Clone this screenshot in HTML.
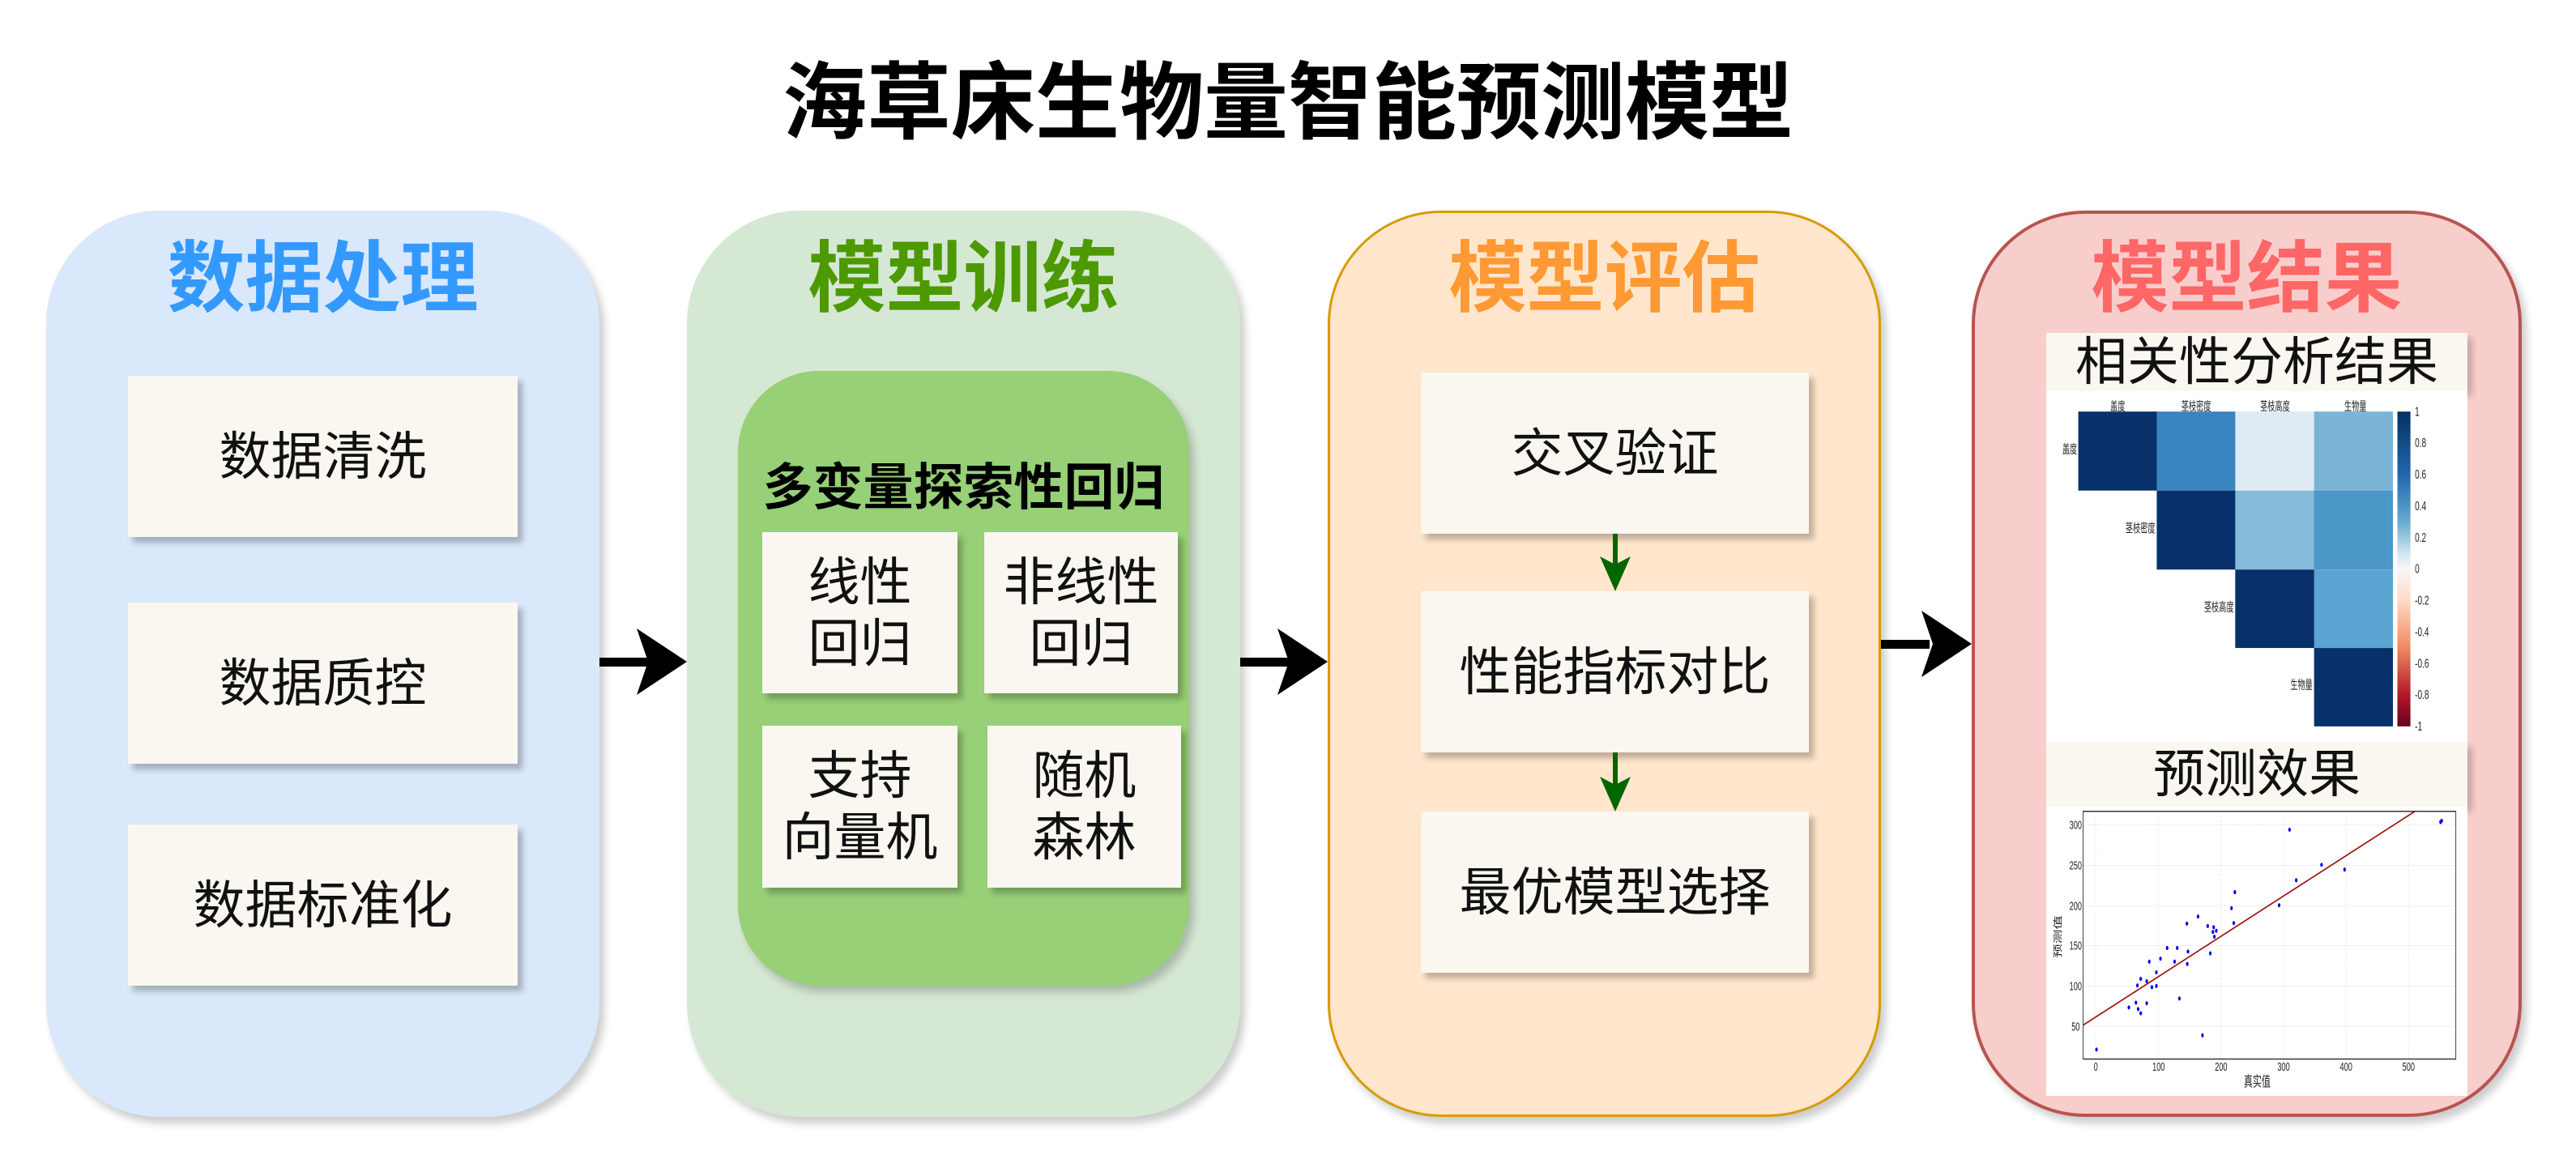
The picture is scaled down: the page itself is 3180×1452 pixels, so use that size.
<!DOCTYPE html>
<html><head><meta charset="utf-8"><style>
*{margin:0;padding:0;box-sizing:border-box}
body{width:3180px;height:1452px;background:#fff;position:relative;overflow:hidden;font-family:"Liberation Sans","Noto Sans CJK SC",sans-serif}
.a{position:absolute}
.panel{position:absolute;top:260px;height:1119px;border-radius:140px;box-shadow:6px 8px 10px rgba(0,0,0,0.2)}
.pt{position:absolute;left:0;right:0;top:290px;text-align:center;font-weight:bold;font-size:96px;line-height:110px}
.box{position:absolute;background:#f9f7f0;display:flex;align-items:center;justify-content:center;text-align:center;font-size:64px;line-height:76px;color:#111;box-shadow:6px 7px 7px rgba(0,0,0,0.25)}
.band{position:absolute;left:2526px;width:520px;background:#f9f7f0;text-align:center;font-size:64px;color:#111;box-shadow:6px 6px 8px rgba(0,0,0,0.2)}
</style></head><body>
<div class="a" style="left:0;right:0;top:66px;text-align:center;font-size:104px;font-weight:bold;line-height:125px;color:#000">海草床生物量智能预测模型</div>

<div class="panel" style="left:57px;width:683px;background:#dae8fc"></div>
<div class="panel" style="left:848px;width:683px;background:#d5e8d4"></div>
<div class="panel" style="left:1639px;width:683px;background:#ffe6cc;border:3px solid #d79b00"></div>
<div class="panel" style="left:2434px;width:679px;background:#f8cecc;border:4px solid #b85450"></div>

<div class="a pt" style="left:57px;width:683px;right:auto;color:#3399ff">数据处理</div>
<div class="a pt" style="left:848px;width:683px;right:auto;color:#4d9900">模型训练</div>
<div class="a pt" style="left:1639px;width:683px;right:auto;color:#ff9933">模型评估</div>
<div class="a pt" style="left:2434px;width:679px;right:auto;color:#ff6666">模型结果</div>

<div class="box" style="left:158px;top:464px;width:481px;height:199px">数据清洗</div>
<div class="box" style="left:158px;top:744px;width:481px;height:199px">数据质控</div>
<div class="box" style="left:158px;top:1018px;width:481px;height:199px">数据标准化</div>

<div class="a" style="left:911px;top:458px;width:557px;height:759px;background:#97d077;border-radius:100px;box-shadow:6px 8px 10px rgba(0,0,0,0.2)"></div>
<div class="a" style="left:911px;top:565px;width:557px;text-align:center;font-size:62px;font-weight:bold;line-height:76px;color:#000">多变量探索性回归</div>
<div class="box" style="left:941px;top:657px;width:241px;height:199px">线性<br>回归</div>
<div class="box" style="left:1215px;top:657px;width:239px;height:199px">非线性<br>回归</div>
<div class="box" style="left:941px;top:896px;width:241px;height:200px">支持<br>向量机</div>
<div class="box" style="left:1219px;top:896px;width:239px;height:200px">随机<br>森林</div>

<div class="box" style="left:1754px;top:460px;width:479px;height:199px">交叉验证</div>
<div class="box" style="left:1754px;top:730px;width:479px;height:199px">性能指标对比</div>
<div class="box" style="left:1754px;top:1002px;width:479px;height:199px">最优模型选择</div>

<svg class="a" style="left:0;top:0" width="3180" height="1452">
<g fill="#000">
<rect x="740" y="812" width="60" height="11"/><path d="M848,817 L786,776 L800,817 L786,858 Z"/>
<rect x="1531" y="812" width="60" height="11"/><path d="M1639,817 L1577,776 L1591,817 L1577,858 Z"/>
<rect x="2322" y="790" width="60" height="11"/><path d="M2434,795 L2372,754 L2386,795 L2372,836 Z"/>
</g>
<g fill="#006600">
<rect x="1991" y="659" width="6" height="40"/><path d="M1994,730 L1975,687 L1994,697 L2013,687 Z"/>
<rect x="1991" y="929" width="6" height="42"/><path d="M1994,1002 L1975,959 L1994,969 L2013,959 Z"/>
</g>
</svg>

<div class="band" style="top:411px;height:72px;line-height:72px">相关性分析结果</div>
<div class="band" style="top:916px;height:80px;line-height:80px">预测效果</div>
<div class="a" style="left:2526px;top:483px;width:520px;height:433px;background:#fff"></div>
<div class="a" style="left:2526px;top:996px;width:520px;height:357px;background:#fff"></div>

<svg class="a" style="left:2420px;top:250px" width="720" height="1150" viewBox="0 0 1568 1568" preserveAspectRatio="none">
<g font-family="Liberation Sans, Noto Sans CJK SC, sans-serif" font-size="20" fill="#222">
<rect x="317" y="352" width="212" height="133" fill="#08306b"/>
<rect x="528" y="352" width="212" height="133" fill="#3a84bf"/>
<rect x="739" y="352" width="213" height="133" fill="#deebf4"/>
<rect x="951" y="352" width="212" height="133" fill="#7ab4d6"/>
<rect x="528" y="485" width="212" height="133" fill="#08306b"/>
<rect x="739" y="485" width="213" height="133" fill="#86bbd9"/>
<rect x="951" y="485" width="212" height="133" fill="#4a97c8"/>
<rect x="739" y="618" width="213" height="132" fill="#08306b"/>
<rect x="951" y="618" width="212" height="132" fill="#5aa5d2"/>
<rect x="951" y="750" width="212" height="132" fill="#08306b"/>
<text x="423" y="350" text-anchor="middle">盖度</text>
<text x="634" y="350" text-anchor="middle">茎枝密度</text>
<text x="846" y="350" text-anchor="middle">茎枝高度</text>
<text x="1062" y="350" text-anchor="middle">生物量</text>
<text x="314" y="422" text-anchor="end">盖度</text>
<text x="524" y="555" text-anchor="end">茎枝密度</text>
<text x="735" y="688" text-anchor="end">茎枝高度</text>
<text x="947" y="819" text-anchor="end">生物量</text>
<defs><linearGradient id="cb" x1="0" y1="0" x2="0" y2="1">
<stop offset="0" stop-color="#053061"/><stop offset="0.2" stop-color="#2166ac"/><stop offset="0.35" stop-color="#67a9cf"/><stop offset="0.45" stop-color="#d1e5f0"/><stop offset="0.5" stop-color="#f7f7f7"/><stop offset="0.6" stop-color="#fddbc7"/><stop offset="0.75" stop-color="#ef8a62"/><stop offset="0.9" stop-color="#b2182b"/><stop offset="1" stop-color="#67001f"/></linearGradient></defs>
<rect x="1175" y="352" width="35" height="530" fill="url(#cb)"/>
<g font-size="22">
<text x="1222" y="359">1</text><text x="1222" y="412">0.8</text><text x="1222" y="465">0.6</text><text x="1222" y="518">0.4</text><text x="1222" y="571">0.2</text><text x="1222" y="624">0</text><text x="1222" y="677">-0.2</text><text x="1222" y="730">-0.4</text><text x="1222" y="783">-0.6</text><text x="1222" y="836">-0.8</text><text x="1222" y="889">-1</text>
</g>
<g stroke="#e4e4e4" stroke-width="1.5" stroke-dasharray="4,3">
<line x1="364" y1="1025" x2="364" y2="1442"/><line x1="533" y1="1025" x2="533" y2="1442"/><line x1="701" y1="1025" x2="701" y2="1442"/><line x1="869" y1="1025" x2="869" y2="1442"/><line x1="1037" y1="1025" x2="1037" y2="1442"/><line x1="1205" y1="1025" x2="1205" y2="1442"/>
<line x1="330" y1="1048" x2="1332" y2="1048"/><line x1="330" y1="1116" x2="1332" y2="1116"/><line x1="330" y1="1184" x2="1332" y2="1184"/><line x1="330" y1="1251" x2="1332" y2="1251"/><line x1="330" y1="1319" x2="1332" y2="1319"/><line x1="330" y1="1387" x2="1332" y2="1387"/>
</g>
<rect x="330" y="1025" width="1002" height="417" fill="none" stroke="#333" stroke-width="2"/>
<line x1="330" y1="1385" x2="1222" y2="1025" stroke="#a01010" stroke-width="2.5"/>
<g fill="#0000ee">
<circle cx="366" cy="1426" r="3.5"/><circle cx="453" cy="1355" r="3.5"/><circle cx="472" cy="1347" r="3.5"/><circle cx="478" cy="1358" r="3.5"/><circle cx="485" cy="1365" r="3.5"/><circle cx="476" cy="1318" r="3.5"/><circle cx="485" cy="1307" r="3.5"/><circle cx="501" cy="1311" r="3.5"/><circle cx="501" cy="1348" r="3.5"/><circle cx="515" cy="1321" r="3.5"/><circle cx="527" cy="1319" r="3.5"/><circle cx="527" cy="1296" r="3.5"/><circle cx="508" cy="1278" r="3.5"/><circle cx="538" cy="1273" r="3.5"/><circle cx="556" cy="1255" r="3.5"/><circle cx="576" cy="1278" r="3.5"/><circle cx="583" cy="1255" r="3.5"/><circle cx="589" cy="1340" r="3.5"/><circle cx="610" cy="1282" r="3.5"/><circle cx="612" cy="1261" r="3.5"/><circle cx="609" cy="1214" r="3.5"/><circle cx="639" cy="1202" r="3.5"/><circle cx="651" cy="1402" r="3.5"/><circle cx="665" cy="1218" r="3.5"/><circle cx="672" cy="1264" r="3.5"/><circle cx="679" cy="1228" r="3.5"/><circle cx="681" cy="1220" r="3.5"/><circle cx="683" cy="1236" r="3.5"/><circle cx="688" cy="1226" r="3.5"/><circle cx="729" cy="1188" r="3.5"/><circle cx="735" cy="1213" r="3.5"/><circle cx="738" cy="1161" r="3.5"/><circle cx="857" cy="1183" r="3.5"/><circle cx="885" cy="1056" r="3.5"/><circle cx="903" cy="1141" r="3.5"/><circle cx="971" cy="1115" r="3.5"/><circle cx="1033" cy="1123" r="3.5"/><circle cx="1291" cy="1043" r="3.5"/><circle cx="1294" cy="1041" r="3.5"/>
</g>
<g font-size="20" text-anchor="middle">
<text x="364" y="1462">0</text><text x="533" y="1462">100</text><text x="701" y="1462">200</text><text x="869" y="1462">300</text><text x="1037" y="1462">400</text><text x="1205" y="1462">500</text>
<text x="798" y="1488" font-size="24">真实值</text>
<text x="310" y="1055">300</text><text x="310" y="1123">250</text><text x="310" y="1191">200</text><text x="310" y="1258">150</text><text x="310" y="1326">100</text><text x="310" y="1394">50</text>
<text x="270" y="1236" font-size="24" transform="rotate(-90 270 1236)">预测值</text>
</g>
</g>
</svg>
</body></html>
